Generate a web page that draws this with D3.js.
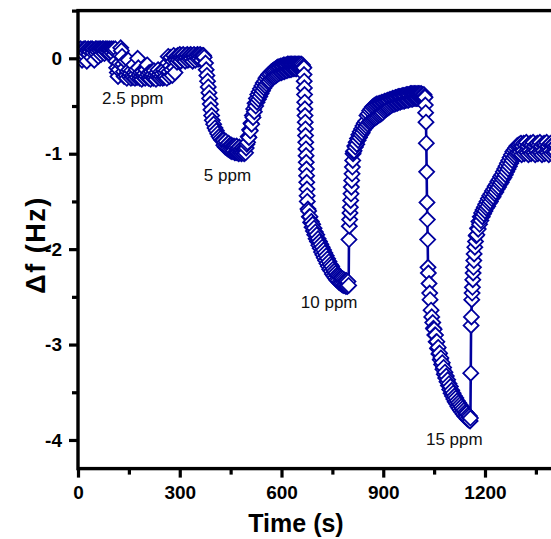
<!DOCTYPE html>
<html>
<head>
<meta charset="utf-8">
<script src="https://cdn.jsdelivr.net/npm/d3@7"></script>
<style>
body { margin: 0; background: #fff; }
svg { display: block; font-family: "Liberation Sans", Arial, sans-serif; }
</style>
</head>
<body>
<div id="chart"></div>
<script>

// [time (s), delta f (Hz)], one array per exposure
var run25 = [
  [0,0.10],[2,0.06],[4,0.09],[6,0.02],[8,0.10],[10,0.05],[12,-0.02],[14,0.09],[16,0.07],[18,0.10],
  [20,0.03],[22,0.10],[24,0.06],[26,-0.03],[28,0.08],[30,0.10],[32,0.04],[34,0.09],[36,0.07],[38,0.10],
  [40,0.01],[42,0.10],[44,0.06],[46,0.09],[48,-0.02],[50,0.08],[52,0.10],[54,0.05],[56,0.10],[58,0.07],
  [60,0.02],[62,0.10],[64,0.08],[66,0.10],[68,0.04],[70,0.09],[72,0.10],[74,0.06],[76,0.10],[78,0.05],
  [80,0.08],[82,0.10],[84,0.07],[86,0.10],[88,0.06],[90,0.09],[92,0.10],[94,0.05],[96,0.08],[98,0.10],
  [100,0.06],[102,0.09],[104,0.10],[106,0.04],[108,0.08],[110,0.10],
  [112,-0.03],[114,-0.10],[116,-0.15],[118,-0.19],[120,-0.12],[122,-0.05],[124,0.03],[126,0.11],[128,0.08],[130,0.02],
  [132,-0.06],[134,-0.14],[136,-0.19],[138,-0.10],[140,-0.03],
  [142,-0.18],[144,-0.21],[146,-0.14],[148,-0.02],[150,-0.12],[152,-0.19],[154,-0.16],[156,-0.21],[158,-0.13],[160,-0.18],
  [162,-0.20],[164,-0.07],[166,-0.15],[168,-0.21],[170,-0.17],[172,-0.12],[174,-0.20],[176,0.00],[178,-0.10],[180,-0.18],
  [182,-0.21],[184,-0.15],[186,-0.19],[188,-0.22],[190,-0.14],[192,-0.18],[194,-0.20],[196,-0.16],[198,-0.21],[200,-0.12],
  [202,-0.19],[204,-0.07],[206,-0.17],[208,-0.21],[210,-0.15],[212,-0.20],[214,-0.22],[216,-0.14],[218,-0.19],[220,-0.17],
  [222,-0.21],[224,-0.13],[226,-0.20],[228,-0.18],[230,-0.22],[232,-0.15],[234,-0.19],[236,-0.12],[238,-0.20],[240,-0.17],
  [242,-0.21],[244,-0.14],[246,-0.19],[248,-0.16],[250,-0.21],[252,-0.12],[254,-0.20],[256,-0.15],[258,-0.19],[260,-0.13],
  [262,-0.21],
  [264,-0.05],[266,0.02],[268,-0.14],[270,-0.19],[272,-0.08],[274,0.01],[276,-0.12],[278,-0.18],[280,-0.03],[282,0.03],
  [284,-0.10],[286,-0.15],[288,-0.02],[290,0.02],[292,-0.04],
  [294,0.03],[296,-0.02],[298,0.02],[300,0.04],[302,-0.03],[304,0.01],[306,0.03],[308,-0.01],[310,0.04],[312,0.00],
  [314,0.02],[316,-0.03],[318,0.03],[320,0.01],[322,0.04],[324,-0.02],[326,0.02],[328,0.03],[330,-0.01],[332,0.04],
  [334,0.00],[336,0.03],[338,-0.03],[340,0.02],[342,0.04],[344,0.01],[346,-0.02],[348,0.03],[350,0.02],[352,0.04],
  [354,-0.01],[356,0.03],[358,0.00],[360,0.04],[362,0.02],[364,-0.02],[366,0.03],[368,0.01],[370,0.03],[372,0.01]
];

var run5 = [
  [376,-0.05],[378,-0.12],[380,-0.18],[382,-0.24],[384,-0.30],[386,-0.36],[388,-0.42],[390,-0.48],[392,-0.54],[394,-0.60],
  [396,-0.65],[400,-0.69],[404,-0.73],[408,-0.76],[412,-0.79],[416,-0.82],[420,-0.84],[424,-0.86],
  [428,-0.86],[430,-0.91],[432,-0.88],[434,-0.93],[436,-0.87],[438,-0.94],[440,-0.90],[442,-0.95],[444,-0.89],[446,-0.96],
  [448,-0.91],[450,-0.97],[452,-0.91],[454,-0.98],[456,-0.92],[458,-0.97],[460,-0.92],[462,-0.99],[464,-0.93],[466,-0.99],
  [468,-0.92],[470,-0.99],[472,-0.94],[474,-1.00],[476,-0.93],[478,-0.99],[480,-0.95],[482,-1.00],[484,-0.94],[486,-0.99],
  [488,-0.95],[490,-1.00],[492,-0.95],[494,-0.99],[496,-0.94],[498,-0.90],[500,-0.88],[502,-0.82],[504,-0.83],[506,-0.75],
  [508,-0.76],[510,-0.68],[512,-0.69],[514,-0.60],[516,-0.62],[518,-0.53],[520,-0.56],[522,-0.47],[524,-0.50],[526,-0.42],
  [528,-0.46],[530,-0.38],[532,-0.43],[534,-0.35],[536,-0.40],[538,-0.32],[540,-0.37],[542,-0.29],[544,-0.34],[546,-0.26],
  [548,-0.31],[550,-0.24],[552,-0.29],[554,-0.21],[556,-0.27],[558,-0.19],[560,-0.25],[562,-0.17],[564,-0.24],[566,-0.16],
  [568,-0.22],[570,-0.14],[572,-0.21],[574,-0.13],[576,-0.20],[578,-0.12],[580,-0.19],[582,-0.11],[584,-0.18],[586,-0.10],
  [588,-0.17],[590,-0.09],[592,-0.16],[594,-0.09],[596,-0.15],[598,-0.08],[600,-0.15],[602,-0.08],[604,-0.14],[606,-0.07],
  [608,-0.14],[610,-0.07],[612,-0.13],[614,-0.07],[616,-0.13],[618,-0.06],[620,-0.12],[622,-0.06],[624,-0.12],[626,-0.06],
  [628,-0.12],[630,-0.06],[632,-0.11],[634,-0.06],[636,-0.11],[638,-0.06],[640,-0.11],[642,-0.06],[644,-0.11],[646,-0.06],
  [648,-0.10],[650,-0.06],[652,-0.10],[654,-0.06],[656,-0.10],[658,-0.06],[660,-0.10],[662,-0.07],[664,-0.09]
];

var run10 = [
  [666,-0.10],[666.5,-0.17],[667,-0.24],[667.5,-0.31],[668,-0.38],[668.5,-0.46],[669,-0.53],[669.5,-0.60],[670,-0.67],[670.5,-0.74],
  [671,-0.81],[671.5,-0.88],[672,-0.95],[672.5,-1.02],[673,-1.09],[673.5,-1.16],[674,-1.23],[674.5,-1.30],[675,-1.37],[675.5,-1.44],
  [676,-1.50],[678,-1.58],[680,-1.60],[682,-1.66],[684,-1.66],[686,-1.72],[688,-1.71],[690,-1.77],[692,-1.74],[694,-1.81],
  [696,-1.78],[698,-1.85],[700,-1.82],[702,-1.89],[704,-1.85],[706,-1.92],[708,-1.89],[710,-1.96],[712,-1.92],[714,-1.99],
  [716,-1.95],[718,-2.03],[720,-1.98],[722,-2.06],[724,-2.01],[726,-2.09],[728,-2.04],[730,-2.12],[732,-2.07],[734,-2.15],
  [736,-2.10],[738,-2.18],[740,-2.13],[742,-2.21],[744,-2.16],[746,-2.23],[748,-2.18],[750,-2.26],[752,-2.21],[754,-2.28],
  [756,-2.23],[758,-2.30],[760,-2.25],[762,-2.32],[764,-2.27],[766,-2.33],[768,-2.28],[770,-2.35],[772,-2.29],[774,-2.36],
  [776,-2.30],[778,-2.37],[780,-2.31],[782,-2.38],[784,-2.32],[786,-2.38],[788,-2.33],[790,-2.39],[792,-2.33],[794,-2.39],
  [796,-2.34],[798,-2.38],[799,-1.90],[800,-1.76],[801,-1.69],[802,-1.62],[803,-1.56],[804,-1.49],[805,-1.42],[806,-1.35],
  [807,-1.28],[808,-1.21],[809,-1.14],[810,-1.07],[811,-1.00],[812,-0.98],[814,-0.97],[816,-0.92],[818,-0.93],[820,-0.88],
  [822,-0.90],[824,-0.84],[826,-0.86],[828,-0.80],[830,-0.83],[832,-0.77],[834,-0.80],[836,-0.74],[838,-0.78],[840,-0.71],
  [842,-0.75],[844,-0.68],[846,-0.73],[848,-0.66],[850,-0.71],[852,-0.60],[854,-0.69],[856,-0.58],[858,-0.67],[860,-0.55],
  [862,-0.66],[864,-0.53],[866,-0.65],[868,-0.51],[870,-0.64],[872,-0.50],[874,-0.63],[876,-0.49],[878,-0.62],[880,-0.48],
  [882,-0.61],[884,-0.48],[886,-0.60],[888,-0.47],[890,-0.59],[892,-0.47],[894,-0.58],[896,-0.46],[898,-0.57],[900,-0.46],
  [902,-0.55],[904,-0.45],[906,-0.54],[908,-0.45],[910,-0.53],[912,-0.44],[914,-0.52],[916,-0.44],[918,-0.51],[920,-0.43],
  [922,-0.50],[924,-0.43],[926,-0.49],[928,-0.42],[930,-0.48],[932,-0.42],[934,-0.48],[936,-0.41],[938,-0.47],[940,-0.41],
  [942,-0.47],[944,-0.40],[946,-0.46],[948,-0.40],[950,-0.46],[952,-0.40],[954,-0.45],[956,-0.39],[958,-0.45],[960,-0.39],
  [962,-0.45],[964,-0.39],[966,-0.44],[968,-0.38],[970,-0.44],[972,-0.38],[974,-0.44],[976,-0.38],[978,-0.43],[980,-0.37],
  [982,-0.43],[984,-0.37],[986,-0.43],[988,-0.37],[990,-0.42],[992,-0.37],[994,-0.42],[996,-0.37],[998,-0.42],[1000,-0.37],
  [1002,-0.42],[1004,-0.37],[1006,-0.41],[1008,-0.37],[1010,-0.41],[1012,-0.37],[1014,-0.41],[1016,-0.38],[1018,-0.41],[1020,-0.38],
  [1022,-0.40]
];

var run15 = [
  [1023,-0.41],[1024,-0.49],[1025,-0.57],[1026,-0.67],[1027,-0.89],[1028,-1.19],[1029,-1.51],[1030,-1.69],[1031,-1.90],[1032,-2.19],
  [1033,-2.25],[1035,-2.36],[1037,-2.46],[1038,-2.53],[1041,-2.64],[1043,-2.71],[1046,-2.77],[1048,-2.83],[1050,-2.84],[1052,-2.90],
  [1054,-2.90],[1056,-2.97],[1058,-2.97],[1060,-3.04],[1062,-3.03],[1064,-3.10],[1066,-3.09],[1068,-3.16],[1070,-3.14],[1072,-3.21],
  [1074,-3.19],[1076,-3.26],[1078,-3.24],[1080,-3.31],[1082,-3.29],[1084,-3.35],[1086,-3.33],[1088,-3.39],[1090,-3.37],[1092,-3.43],
  [1094,-3.41],[1096,-3.47],[1098,-3.44],[1100,-3.51],[1102,-3.48],[1104,-3.54],[1106,-3.51],[1108,-3.57],[1110,-3.54],[1112,-3.60],
  [1114,-3.56],[1116,-3.62],[1118,-3.59],[1120,-3.65],[1122,-3.61],[1124,-3.67],[1126,-3.63],[1128,-3.69],[1130,-3.65],[1132,-3.71],
  [1134,-3.67],[1136,-3.73],[1138,-3.69],[1140,-3.75],[1142,-3.71],[1144,-3.76],[1146,-3.72],[1148,-3.78],[1150,-3.74],[1152,-3.79],
  [1154,-3.75],[1156,-3.80],[1157,-3.77],[1158,-3.30],[1159,-2.80],[1160,-2.71],[1161,-2.53],[1162,-2.46],[1163,-2.40],[1164,-2.32],
  [1165,-2.25],[1166,-2.19],[1167,-2.12],[1168,-2.05],[1170,-1.98],[1172,-1.92],[1174,-1.86],[1176,-1.85],[1178,-1.78],[1180,-1.79],
  [1182,-1.71],[1184,-1.74],[1186,-1.66],[1188,-1.70],[1190,-1.62],[1192,-1.66],[1194,-1.59],[1196,-1.63],[1198,-1.56],[1200,-1.60],
  [1202,-1.53],[1204,-1.57],[1206,-1.50],[1208,-1.55],[1210,-1.47],[1212,-1.52],[1214,-1.44],[1216,-1.50],[1218,-1.42],[1220,-1.47],
  [1222,-1.39],[1224,-1.45],[1226,-1.37],[1228,-1.42],[1230,-1.34],[1232,-1.40],[1234,-1.32],[1236,-1.37],[1238,-1.29],[1240,-1.35],
  [1242,-1.27],[1244,-1.32],[1246,-1.24],[1248,-1.30],[1250,-1.22],[1252,-1.27],[1254,-1.19],[1256,-1.25],[1258,-1.16],[1260,-1.22],
  [1262,-1.13],[1264,-1.19],[1266,-1.10],[1268,-1.16],[1270,-1.07],[1272,-1.13],[1274,-1.04],[1276,-1.10],[1278,-1.01],[1280,-1.07],
  [1282,-0.98],[1284,-1.04],[1286,-0.96],[1288,-1.02],[1290,-0.94],[1292,-1.00],[1294,-0.92],[1296,-0.99],[1298,-0.91],[1300,-1.00],
  [1302,-0.90],[1304,-0.98],[1306,-0.89],[1308,-1.01],[1310,-0.92],[1312,-0.97],[1314,-0.89],[1316,-1.00],[1318,-0.91],[1320,-0.98],
  [1322,-0.88],[1324,-0.99],[1326,-0.92],[1328,-1.01],[1330,-0.90],[1332,-0.97],[1334,-0.89],[1336,-1.00],[1338,-0.91],[1340,-0.98],
  [1342,-0.88],[1344,-0.99],[1346,-0.92],[1348,-1.01],[1350,-0.90],[1352,-0.97],[1354,-0.89],[1356,-1.00],[1358,-0.91],[1360,-0.98],
  [1362,-0.88],[1364,-0.99],[1366,-0.92],[1368,-1.01],[1370,-0.90],[1372,-0.97],[1374,-0.89],[1376,-1.00],[1378,-0.91],[1380,-0.98],
  [1382,-0.88],[1384,-0.99],[1386,-0.92],[1388,-1.01],[1390,-0.90],[1392,-0.97],[1394,-0.89],[1396,-1.00],[1398,-0.91],[1400,-0.98],
  [1402,-0.90],[1404,-0.99],[1406,-0.92],[1408,-0.98],[1410,-0.91]
];

// labels next to each response: [text, time, delta f]
var notes = [["2.5 ppm", 71, -0.48], ["5 ppm", 371, -1.29], ["10 ppm", 657, -2.62], ["15 ppm", 1026, -4.05]];

var xMajor = [0, 300, 600, 900, 1200],
    xMinor = [150, 450, 750, 1050, 1350],
    yMajor = [0, -1, -2, -3, -4],
    yMinor = [0.5, -0.5, -1.5, -2.5, -3.5];

var width = 551, height = 539,
    blue = "#00009e";

var svg = d3.select("#chart").append("svg")
    .attr("width", width)
    .attr("height", height);

var x = d3.scaleLinear().domain([0, 1500]).range([78, 78 + 1500 * 407 / 1200]);
var y = d3.scaleLinear().domain([-4.3, 0.5]).range([468.6, 10.6]);

// symbols are cut at the frame like in the original plot
svg.append("clipPath").attr("id", "plotArea")
  .append("rect")
  .attr("x", x(0)).attr("y", y(0.5))
  .attr("width", x(1500) - x(0)).attr("height", y(-4.3) - y(0.5));

var data = run25.concat(run5, run10, run15);

var plot = svg.append("g").attr("clip-path", "url(#plotArea)");

// connecting line
plot.append("path")
  .datum(data)
  .attr("fill", "none")
  .attr("stroke", blue)
  .attr("stroke-width", 2.6)
  .attr("d", d3.line().x(function(d) { return x(d[0]); }).y(function(d) { return y(d[1]); }));

// open diamonds, drawn in time order so later ones sit on top
var diamond = {
  draw: function(ctx, size) {
    var r = Math.sqrt(size) / 2;
    ctx.moveTo(0, -r); ctx.lineTo(r, 0); ctx.lineTo(0, r); ctx.lineTo(-r, 0); ctx.closePath();
  }
};

plot.selectAll(".pt")
  .data(data)
  .enter().append("path")
  .attr("class", "pt")
  .attr("d", d3.symbol(diamond, 225))
  .attr("transform", function(d) { return "translate(" + x(d[0]) + "," + y(d[1]) + ")"; })
  .attr("fill", "#fff")
  .attr("stroke", blue)
  .attr("stroke-width", 1.8);

// frame
svg.append("rect")
  .attr("x", x(0))
  .attr("y", y(0.5))
  .attr("width", x(1500) - x(0))
  .attr("height", y(-4.3) - y(0.5))
  .attr("fill", "none")
  .attr("stroke", "#000")
  .attr("stroke-width", 3.4);

// axes
var gx = svg.append("g").attr("transform", "translate(0," + y(-4.3) + ")");
gx.call(d3.axisBottom(x).tickValues(xMajor).tickSize(9).tickPadding(8).tickFormat(d3.format("d")));
var gxm = svg.append("g").attr("transform", "translate(0," + y(-4.3) + ")");
gxm.call(d3.axisBottom(x).tickValues(xMinor).tickSize(6).tickFormat(""));

var gy = svg.append("g").attr("transform", "translate(" + x(0) + ",0)");
gy.call(d3.axisLeft(y).tickValues(yMajor).tickSize(9).tickPadding(7).tickFormat(d3.format("d")));
var gym = svg.append("g").attr("transform", "translate(" + x(0) + ",0)");
gym.call(d3.axisLeft(y).tickValues(yMinor).tickSize(6).tickFormat(""));

svg.selectAll(".domain").remove();
svg.selectAll(".tick line").attr("stroke", "#000").attr("stroke-width", 3.2);
svg.selectAll(".tick text")
  .attr("fill", "#000")
  .style("font-size", "19px")
  .style("font-weight", "bold")
  .style("font-family", "'Liberation Sans', Arial, sans-serif");
gy.selectAll(".tick text").text(function(d) { return d === 0 ? "0" : d; });

// titles
svg.append("text")
  .attr("x", 296)
  .attr("y", 532)
  .attr("text-anchor", "middle")
  .style("font-size", "25px")
  .style("font-weight", "bold")
  .text("Time (s)");

svg.append("text")
  .attr("transform", "translate(45,245) rotate(-90)")
  .attr("text-anchor", "middle")
  .style("font-size", "27px")
  .style("font-weight", "bold")
  .style("letter-spacing", "1.5px")
  .text("\u0394f (Hz)");

// response labels
svg.selectAll(".note")
  .data(notes)
  .enter().append("text")
  .attr("class", "note")
  .attr("x", function(d) { return x(d[1]); })
  .attr("y", function(d) { return y(d[2]); })
  .style("font-size", "17px")
  .attr("fill", "#111")
  .text(function(d) { return d[0]; });

</script>
</body>
</html>
